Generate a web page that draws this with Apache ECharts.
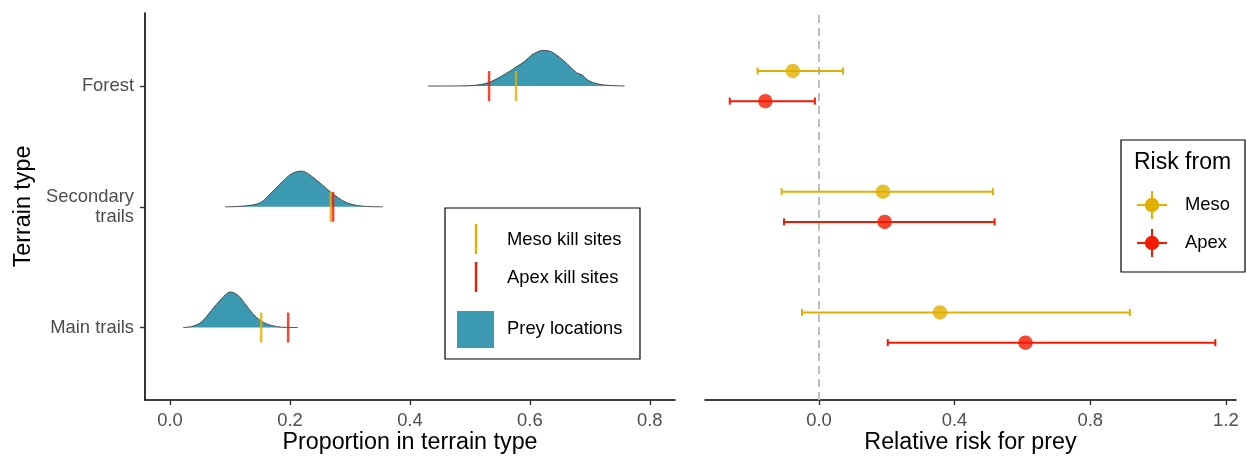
<!DOCTYPE html>
<html>
<head>
<meta charset="utf-8">
<script src="https://cdn.jsdelivr.net/npm/echarts@6/dist/echarts.min.js"></script>
<style>
html,body{margin:0;padding:0;background:#fff;}
#chart{width:1247px;height:457px;}
</style>
</head>
<body>
<div id="chart"></div>
<script>
// ---------- data ----------
const terrainLabels = ['Main trails', 'Secondary\ntrails', 'Forest'];
const terrainPos = [1, 2, 3];
const leftTicks = [0, 0.2, 0.4, 0.6, 0.8];
const rightTicks = [0, 0.4, 0.8, 1.2];

// prey location densities (relative height, peak = 1)
const mainDensX = [0.022, 0.036, 0.052, 0.069, 0.086, 0.100, 0.113, 0.125, 0.138, 0.152, 0.169, 0.186, 0.213];
const mainDensY = [0, 0.03, 0.15, 0.48, 0.81, 1.0, 0.91, 0.67, 0.39, 0.18, 0.06, 0.01, 0];
const secDensX = [0.092, 0.122, 0.150, 0.167, 0.183, 0.203, 0.220, 0.230, 0.245, 0.261, 0.272, 0.288, 0.305, 0.328, 0.355];
const secDensY = [0, 0.02, 0.11, 0.36, 0.63, 0.93, 1.0, 0.93, 0.74, 0.51, 0.36, 0.17, 0.06, 0.01, 0];
const forestDensX = [0.430, 0.483, 0.508, 0.530, 0.553, 0.575, 0.592, 0.603, 0.620, 0.633, 0.647, 0.663, 0.678, 0.687, 0.697, 0.713, 0.730, 0.758];
const forestDensY = [0, 0.003, 0.02, 0.09, 0.28, 0.51, 0.70, 0.87, 1.0, 0.98, 0.84, 0.61, 0.37, 0.31, 0.16, 0.06, 0.02, 0];

// kill site proportions
const mesoKill = [0.152, 0.268, 0.577];
const apexKill = [0.197, 0.272, 0.532];

// relative risk estimates and intervals
const mesoRisk = [0.357, 0.189, -0.077];
const mesoLo   = [-0.050, -0.110, -0.181];
const mesoHi   = [0.917, 0.513, 0.071];
const apexRisk = [0.609, 0.194, -0.158];
const apexLo   = [0.203, -0.103, -0.263];
const apexHi   = [1.169, 0.518, -0.012];

// ---------- style ----------
const FONT = "'Liberation Sans', Arial, Helvetica, sans-serif";
const TEAL = '#3B9AB2', GOLD = '#E1AF00', RED = '#F21A00';
const RIDGE = 0.295;   // ridge peak height in category units
const DODGE = 0.125;   // vertical dodge of risk rows
const densX = [mainDensX, secDensX, forestDensX];
const densY = [mainDensY, secDensY, forestDensY];

const chart = echarts.init(document.getElementById('chart'), null, {renderer: 'canvas'});

function xAxisCfg(idx, min, max, ticks, name) {
  return {
    gridIndex: idx, type: 'value', min: min, max: max,
    splitLine: {show: false},
    axisLine: {onZero: false, lineStyle: {color: '#000', width: 1.6}},
    axisTick: {customValues: ticks, length: 5, lineStyle: {color: '#333', width: 1.4}},
    axisLabel: {customValues: ticks, formatter: v => v.toFixed(1), color: '#4D4D4D',
                fontSize: 18.4, fontFamily: FONT, margin: 12},
    name: name, nameLocation: 'middle', nameGap: 31, nameMoveOverlap: false,
    nameTextStyle: {fontSize: 23.3, color: '#000', fontFamily: FONT}
  };
}

function errRender(lo, hi, off) {
  return function (params, api) {
    const i = api.value(0);
    const y = terrainPos[i] + off;
    const a = api.coord([lo[i], y]);
    const b = api.coord([hi[i], y]);
    const col = api.visual('color');
    const st = {stroke: col, lineWidth: 2};
    return {type: 'group', children: [
      {type: 'line', shape: {x1: a[0], y1: a[1], x2: b[0], y2: b[1]}, style: st},
      {type: 'line', shape: {x1: a[0], y1: a[1] - 3.5, x2: a[0], y2: a[1] + 3.5}, style: st},
      {type: 'line', shape: {x1: b[0], y1: b[1] - 3.5, x2: b[0], y2: b[1] + 3.5}, style: st}
    ]};
  };
}

const option = {
  animation: false,
  backgroundColor: '#fff',
  textStyle: {fontFamily: FONT},
  grid: [
    {left: 145, top: 13, width: 530, height: 387, containLabel: false, outerBoundsMode: 'none'},
    {left: 705, top: 13, width: 531, height: 387, containLabel: false, outerBoundsMode: 'none'}
  ],
  xAxis: [
    xAxisCfg(0, -0.0417, 0.842, leftTicks, 'Proportion in terrain type'),
    xAxisCfg(1, -0.336, 1.230, rightTicks, 'Relative risk for prey')
  ],
  yAxis: [
    {gridIndex: 0, type: 'value', min: 0.4, max: 3.605, splitLine: {show: false},
     axisLine: {onZero: false, lineStyle: {color: '#000', width: 1.6}},
     axisTick: {customValues: terrainPos, length: 5, lineStyle: {color: '#333', width: 1.4}},
     axisLabel: {customValues: terrainPos, formatter: v => terrainLabels[Math.round(v) - 1],
                 color: '#4D4D4D', fontSize: 18.4, fontFamily: FONT, margin: 11, lineHeight: 20.5,
                 padding: [5, 0, 0, 0]},
     name: 'Terrain type', nameLocation: 'middle', nameGap: 110, nameMoveOverlap: false,
     nameTextStyle: {fontSize: 23.3, color: '#000', fontFamily: FONT}},
    {gridIndex: 1, type: 'value', min: 0.4, max: 3.605, show: false}
  ],
  series: [
    {
      type: 'custom', xAxisIndex: 0, yAxisIndex: 0, z: 2,
      data: [[0], [1], [2]],
      encode: {x: -1, y: -1},
      renderItem: function (params, api) {
        const i = api.value(0);
        const xs = densX[i], ys = densY[i], base = terrainPos[i];
        const pts = xs.map((x, k) => api.coord([x, base + RIDGE * ys[k]]));
        const cons = [[Infinity, Infinity], [-Infinity, -Infinity]];
        return {type: 'group', children: [
          {type: 'polygon', shape: {points: pts, smooth: 0.35, smoothConstraint: cons},
           style: {fill: TEAL, stroke: null}},
          {type: 'polyline', shape: {points: pts, smooth: 0.35, smoothConstraint: cons},
           style: {fill: null, stroke: '#3a3a3a', lineWidth: 0.9}}
        ]};
      }
    },
    {
      type: 'scatter', xAxisIndex: 0, yAxisIndex: 0, z: 3, name: 'Meso kill sites',
      symbol: 'rect', symbolSize: [2.5, 30], itemStyle: {color: GOLD},
      data: mesoKill.map((x, i) => [x, terrainPos[i]])
    },
    {
      type: 'scatter', xAxisIndex: 0, yAxisIndex: 0, z: 4, name: 'Apex kill sites',
      symbol: 'rect', symbolSize: [2.5, 30], itemStyle: {color: RED},
      data: apexKill.map((x, i) => [x, terrainPos[i]])
    },
    {
      type: 'custom', xAxisIndex: 1, yAxisIndex: 1, z: 3, itemStyle: {color: GOLD},
      data: [[0], [1], [2]], encode: {x: -1, y: -1},
      renderItem: errRender(mesoLo, mesoHi, DODGE)
    },
    {
      type: 'custom', xAxisIndex: 1, yAxisIndex: 1, z: 3, itemStyle: {color: RED},
      data: [[0], [1], [2]], encode: {x: -1, y: -1},
      renderItem: errRender(apexLo, apexHi, -DODGE)
    },
    {
      type: 'scatter', xAxisIndex: 1, yAxisIndex: 1, z: 4, name: 'Meso',
      symbol: 'circle', symbolSize: 14.5, itemStyle: {color: GOLD},
      data: mesoRisk.map((x, i) => [x, terrainPos[i] + DODGE]),
      markLine: {
        silent: true, symbol: 'none', label: {show: false}, z: 1,
        lineStyle: {color: '#BEBEBE', type: [8, 5], width: 2},
        data: [{xAxis: 0}]
      }
    },
    {
      type: 'scatter', xAxisIndex: 1, yAxisIndex: 1, z: 4, name: 'Apex',
      symbol: 'circle', symbolSize: 14.5, itemStyle: {color: RED},
      data: apexRisk.map((x, i) => [x, terrainPos[i] - DODGE])
    }
  ],
  graphic: [
    // left legend
    {type: 'rect', shape: {x: 445, y: 208, width: 195, height: 151},
     style: {fill: '#fff', stroke: '#000', lineWidth: 1.2}, z: 10},
    {type: 'rect', shape: {x: 474.8, y: 224, width: 2.4, height: 30}, style: {fill: GOLD}, z: 11},
    {type: 'rect', shape: {x: 474.8, y: 262, width: 2.4, height: 30}, style: {fill: RED}, z: 11},
    {type: 'rect', shape: {x: 457, y: 311, width: 37, height: 37}, style: {fill: TEAL}, z: 11},
    {type: 'text', x: 507, y: 240, z: 11, style: {text: 'Meso kill sites', fontSize: 18.4, fontFamily: FONT, fill: '#000', verticalAlign: 'middle'}},
    {type: 'text', x: 507, y: 278, z: 11, style: {text: 'Apex kill sites', fontSize: 18.4, fontFamily: FONT, fill: '#000', verticalAlign: 'middle'}},
    {type: 'text', x: 507, y: 329, z: 11, style: {text: 'Prey locations', fontSize: 18.4, fontFamily: FONT, fill: '#000', verticalAlign: 'middle'}},
    // right legend
    {type: 'rect', shape: {x: 1121, y: 140, width: 124, height: 132},
     style: {fill: '#fff', stroke: '#000', lineWidth: 1.2}, z: 10},
    {type: 'text', x: 1134, y: 163, z: 11, style: {text: 'Risk from', fontSize: 23, fontFamily: FONT, fill: '#000', verticalAlign: 'middle'}},
    {type: 'line', shape: {x1: 1137, y1: 205, x2: 1167, y2: 205}, style: {stroke: GOLD, lineWidth: 2}, z: 11},
    {type: 'line', shape: {x1: 1152, y1: 191, x2: 1152, y2: 219}, style: {stroke: GOLD, lineWidth: 2}, z: 11},
    {type: 'circle', shape: {cx: 1152, cy: 205, r: 7.2}, style: {fill: GOLD}, z: 11},
    {type: 'text', x: 1185, y: 205, z: 11, style: {text: 'Meso', fontSize: 18.4, fontFamily: FONT, fill: '#000', verticalAlign: 'middle'}},
    {type: 'line', shape: {x1: 1137, y1: 243, x2: 1167, y2: 243}, style: {stroke: RED, lineWidth: 2}, z: 11},
    {type: 'line', shape: {x1: 1152, y1: 229, x2: 1152, y2: 257}, style: {stroke: RED, lineWidth: 2}, z: 11},
    {type: 'circle', shape: {cx: 1152, cy: 243, r: 7.2}, style: {fill: RED}, z: 11},
    {type: 'text', x: 1185, y: 243, z: 11, style: {text: 'Apex', fontSize: 18.4, fontFamily: FONT, fill: '#000', verticalAlign: 'middle'}}
  ]
};
chart.setOption(option);
</script>
</body>
</html>
